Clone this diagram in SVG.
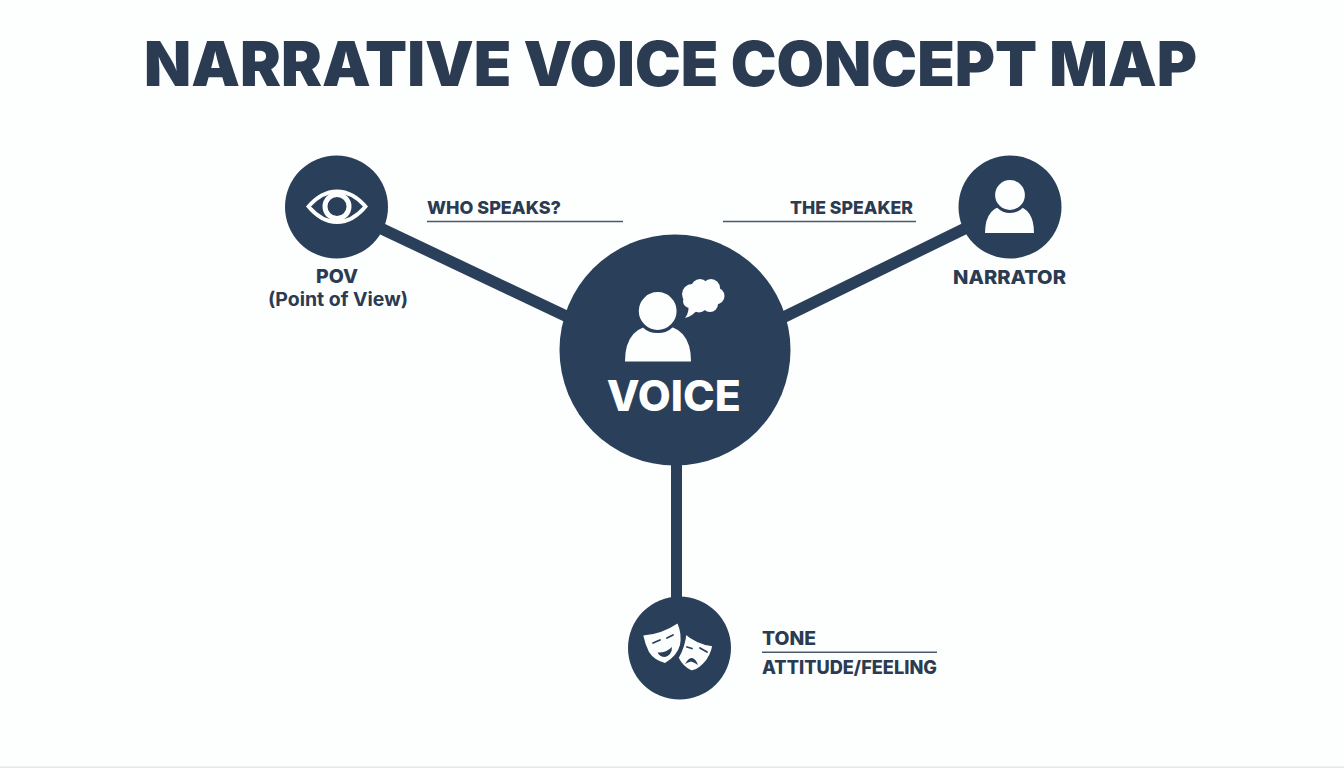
<svg xmlns="http://www.w3.org/2000/svg" width="1344" height="768" viewBox="0 0 1344 768">
<style>
text{font-family:Inter,"Liberation Sans",sans-serif;fill:#2a3b52;font-weight:800}
.n{fill:#2a3f5a}
.w{fill:#fdfefe}
.c{stroke:#2a3f5a;fill:none}
.r{stroke:#4a5a6c;stroke-width:1.5;fill:none}
.v{fill:#fdfefe;font-weight:800}
.g{stroke:#2a3f5a;stroke-width:3.2}
</style>
<rect width="1344" height="768" fill="#fdfefe"/>
<rect y="766.5" width="1344" height="1.5" fill="#e6e8e8"/>
<text id="title" x="144" y="86" font-size="62" textLength="1053" lengthAdjust="spacingAndGlyphs" style="font-weight:900">NARRATIVE VOICE CONCEPT MAP</text>
<g id="connectors">
<line class="c" x1="380" y1="228" x2="570" y2="318" stroke-width="11.5"/>
<line class="c" x1="966" y1="228" x2="782" y2="318" stroke-width="11.5"/>
<line class="c" x1="676.5" y1="460" x2="676.5" y2="602" stroke-width="11"/>
</g>
<g id="pov">
<circle class="n" cx="336.5" cy="207" r="51.5"/>
<path class="w" fill-rule="evenodd" d="M306 206.5Q320 189.5 337 189.5Q354 189.5 368 206.5Q354 224 337 224Q320 224 306 206.5ZM311 206.5Q323 220 337 220Q351 220 363 206.5Q351 193.5 337 193.5Q323 193.5 311 206.5Z"/>
<path class="w" fill-rule="evenodd" d="M322.5 206.5a14.5 14.5 0 1 0 29 0a14.5 14.5 0 1 0 -29 0ZM327.5 206.5a9.5 9.5 0 1 1 19 0a9.5 9.5 0 1 1 -19 0Z"/>
<text x="337" y="283" font-size="19" text-anchor="middle" textLength="42" lengthAdjust="spacingAndGlyphs">POV</text>
<text x="338" y="305.5" font-size="19" text-anchor="middle" textLength="140" lengthAdjust="spacingAndGlyphs" style="font-weight:700">(Point of View)</text>
</g>
<g id="who-speaks">
<text x="427" y="214" font-size="18" textLength="134" lengthAdjust="spacingAndGlyphs">WHO SPEAKS?</text>
<line class="r" x1="427" y1="221.5" x2="623" y2="221.5"/>
</g>
<g id="the-speaker">
<text x="790" y="214" font-size="18" textLength="123" lengthAdjust="spacingAndGlyphs">THE SPEAKER</text>
<line class="r" x1="723" y1="221.5" x2="916" y2="221.5"/>
</g>
<g id="narrator">
<circle class="n" cx="1010" cy="207" r="51.5"/>
<path class="w" d="M985 233Q985 205 1010 205Q1034 205 1034 233Z"/>
<circle class="w g" cx="1010" cy="195" r="16.5"/>
<text x="953" y="284" font-size="19" textLength="113" lengthAdjust="spacingAndGlyphs">NARRATOR</text>
</g>
<g id="voice">
<circle class="n" cx="675" cy="350" r="115.5"/>
<path class="w" d="M625 361.5Q625 325 658 325Q691 325 691 361.5Z"/>
<circle class="w g" cx="657.7" cy="311" r="20.5"/>
<g class="w">
<circle cx="692" cy="294" r="10"/><circle cx="700" cy="288" r="9"/><circle cx="711" cy="288" r="9"/><circle cx="716" cy="296" r="8.5"/><circle cx="710" cy="304" r="8"/><circle cx="699" cy="304" r="8.5"/><circle cx="690" cy="301" r="7"/><circle cx="703" cy="296" r="10"/>
<path d="M685 318Q690 312 688 302L698 309Q693 316 685 318Z"/>
</g>
<text class="v" x="606.7" y="410.5" font-size="42" textLength="134" lengthAdjust="spacingAndGlyphs">VOICE</text>
</g>
<g id="tone">
<circle class="n" cx="679.5" cy="648" r="51.5"/>
<path class="w" d="M643.3 635.5Q662 634 677.5 623.5Q682 634 680 645Q677 656 665 663Q654 660 649 652Q645 644 643.3 635.5Z"/>
<path class="w g" d="M685 632Q697 643 714 645Q712 657 704 665Q697 672 691 672Q682 668 677 658Q684 646 685 632Z" stroke-width="2.6"/>
<g fill="none" stroke="#2a3f5a" stroke-width="1.8" stroke-linecap="round">
<path d="M653 643l7-3M667 638l6-3M687 647l5 1.5M700 648l7 4"/>
</g>
<g class="n">
<path d="M657.5 652.5Q666 653 672 647Q672 655 665 657Q660 657 657.5 652.5Z"/>
<path d="M685 664Q689 657 692 658Q696 659 698 665Q694 662 691 661.5Q688 662 685 664Z"/>
</g>
<text x="762" y="645" font-size="18.5" textLength="54" lengthAdjust="spacingAndGlyphs">TONE</text>
<line class="r" x1="762" y1="652.3" x2="937" y2="652.3"/>
<text x="762" y="674" font-size="18.5" textLength="175" lengthAdjust="spacingAndGlyphs">ATTITUDE/FEELING</text>
</g>
</svg>
